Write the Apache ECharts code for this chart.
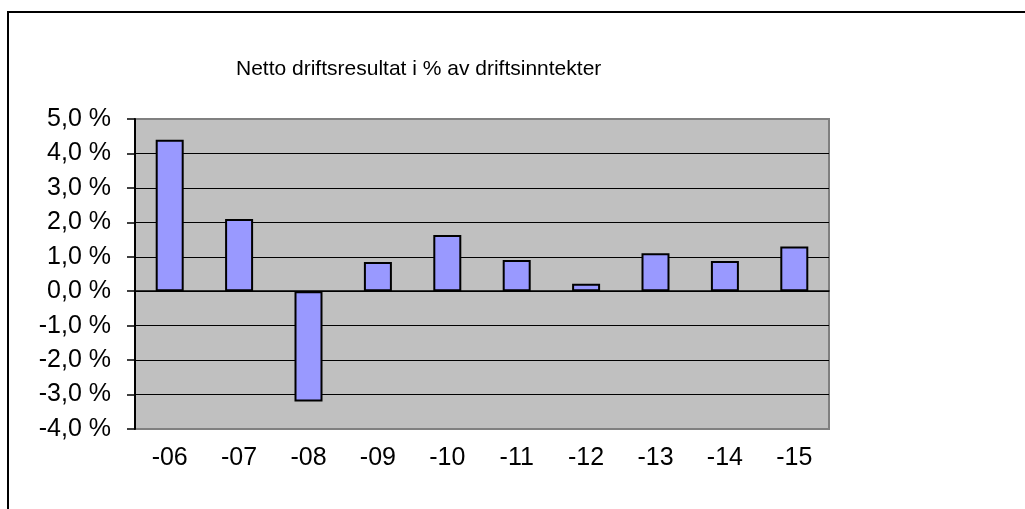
<!DOCTYPE html>
<html>
<head>
<meta charset="utf-8">
<script src="https://cdn.jsdelivr.net/npm/echarts@6/dist/echarts.min.js"></script>
<style>
  html, body { margin: 0; padding: 0; background: #fff; }
  #main { width: 1025px; height: 509px; }
</style>
</head>
<body>
<div id="main"></div>
<script>
var years = ['-06', '-07', '-08', '-09', '-10', '-11', '-12', '-13', '-14', '-15'];
var resultat = [4.4, 2.1, -3.2, 0.85, 1.63, 0.91, 0.22, 1.1, 0.88, 1.3];
var yMin = -4;
var yMax = 5;

var chart = echarts.init(document.getElementById('main'));
var font = 'Liberation Sans, Arial, sans-serif';

var option = {
  animation: false,
  backgroundColor: '#fff',
  title: {
    text: 'Netto driftsresultat i % av driftsinntekter',
    left: 231,
    top: 54,
    textStyle: { fontFamily: font, fontSize: 21, fontWeight: 'normal', color: '#000' }
  },
  graphic: [{
    type: 'rect',
    shape: { x: 8, y: 12, width: 1100, height: 600 },
    style: { fill: 'none', stroke: '#000', lineWidth: 2 },
    silent: true
  }],
  grid: {
    left: 135, top: 119, right: 196, bottom: 80,
    show: true,
    backgroundColor: '#C0C0C0',
    borderColor: '#808080',
    borderWidth: 2
  },
  xAxis: [{
    type: 'category',
    data: years,
    position: 'bottom',
    axisLine: { show: false, onZero: false },
    axisTick: { show: false },
    axisLabel: { margin: 17, fontFamily: font, fontSize: 25, color: '#000' }
  }, {
    type: 'category',
    data: years,
    position: 'bottom',
    axisLine: { onZero: true, lineStyle: { color: '#000', width: 1.5 } },
    axisTick: { length: 6, lineStyle: { color: '#000', width: 1.5 } },
    axisLabel: { show: false }
  }],
  yAxis: {
    type: 'value',
    min: yMin,
    max: yMax,
    interval: 1,
    axisLine: { show: true, lineStyle: { color: '#000', width: 2 } },
    axisTick: { show: true, length: 8, lineStyle: { color: '#000', width: 1.5 } },
    splitLine: { show: true, showMinLine: false, showMaxLine: false, lineStyle: { color: '#000', width: 1 } },
    axisLabel: {
      margin: 24,
      fontFamily: font,
      fontSize: 25,
      color: '#000',
      formatter: function (v) { return v.toFixed(1).replace('.', ',') + ' %'; }
    }
  },
  series: [{
    type: 'bar',
    xAxisIndex: 0,
    data: resultat,
    barWidth: 28,
    itemStyle: { color: '#9999FF', borderColor: '#000', borderWidth: 2 }
  }]
};

chart.setOption(option);
</script>
</body>
</html>
